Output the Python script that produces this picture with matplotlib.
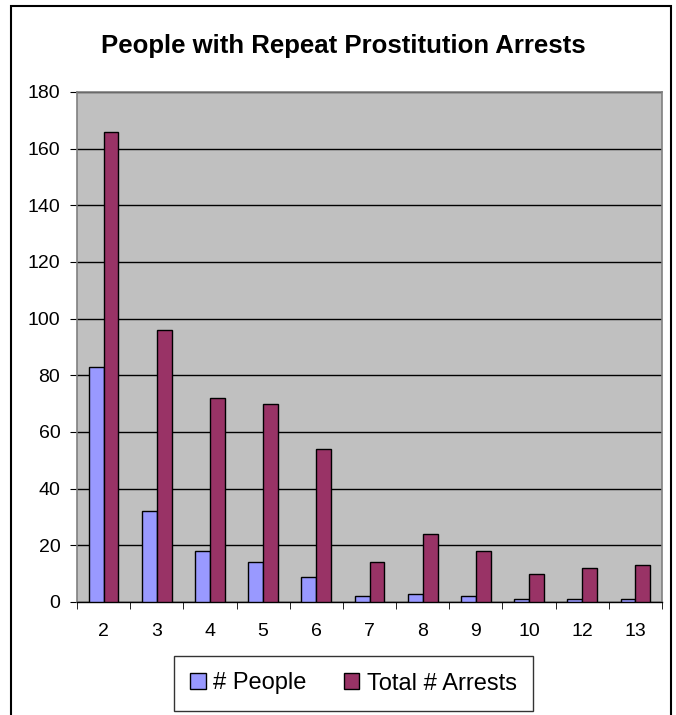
import matplotlib
matplotlib.use("Agg")
import matplotlib.pyplot as plt
from matplotlib.patches import Rectangle, Patch
import numpy as np

plt.rcParams['font.family'] = ['Liberation Sans', 'DejaVu Sans']

categories = ["2", "3", "4", "5", "6", "7", "8", "9", "10", "12", "13"]
people = [83, 32, 18, 14, 9, 2, 3, 2, 1, 1, 1]
arrests = [166, 96, 72, 70, 54, 14, 24, 18, 10, 12, 13]
yticks = [0, 20, 40, 60, 80, 100, 120, 140, 160, 180]

W, H = 676, 715
fig = plt.figure(figsize=(W / 100, H / 100), dpi=100)

# outer chart border
fig.patches.append(Rectangle((11 / W, -0.01), (671 - 11) / W, (H - 6) / H + 0.01,
                             transform=fig.transFigure, fill=False,
                             edgecolor='black', linewidth=1.5))

ax = fig.add_axes([77 / W, 1 - 602 / H, (662 - 77) / W, (602 - 92) / H])
ax.set_facecolor('#C0C0C0')

x = np.arange(len(categories))
bw = 0.28
ax.bar(x - bw / 2, people, bw, color='#9999FF', edgecolor='black', linewidth=1, zorder=3)
ax.bar(x + bw / 2, arrests, bw, color='#993366', edgecolor='black', linewidth=1, zorder=3)

ax.set_xlim(-0.5, len(categories) - 0.5)
ax.set_ylim(0, 180)
ax.set_yticks(yticks)
ax.set_yticklabels([str(v) for v in yticks], fontsize=14)
ax.yaxis.grid(True, color='black', linewidth=1, zorder=1)
ax.set_axisbelow(True)

ax.set_xticks(x)
ax.set_xticklabels(categories, fontsize=14)
ax.set_xticks(np.arange(len(categories) + 1) - 0.5, minor=True)
ax.tick_params(axis='x', which='major', length=0, pad=15)
ax.tick_params(axis='x', which='minor', length=5, direction='out', color='black')
ax.tick_params(axis='y', length=5, direction='out', color='black', pad=7)

for s in ['top', 'right', 'left']:
    ax.spines[s].set_color('#808080')
    ax.spines[s].set_linewidth(1.2)
ax.spines['bottom'].set_color('black')
ax.spines['bottom'].set_linewidth(1)

fig.text(343 / W, 1 - 46 / H, "People with Repeat Prostitution Arrests",
         ha='center', va='center', fontsize=18.5, fontweight='bold')

handles = [Patch(facecolor='#9999FF', edgecolor='black', label='# People'),
           Patch(facecolor='#993366', edgecolor='black', label='Total # Arrests')]
leg = fig.legend(handles=handles, loc='center', bbox_to_anchor=(353.5 / W, 1 - 683.5 / H),
                 ncol=2, fontsize=17, frameon=True, fancybox=False, edgecolor='black',
                 handlelength=0.65, handleheight=0.65, handletextpad=0.3, columnspacing=1.6,
                 borderpad=0.7, borderaxespad=0)
leg.get_frame().set_linewidth(1)
leg._legend_box.sep = 0
fig.canvas.draw()
# widen horizontal padding of the legend frame to match reference
bb = leg.get_frame().get_bbox()

fig.savefig("out.png", dpi=100)
